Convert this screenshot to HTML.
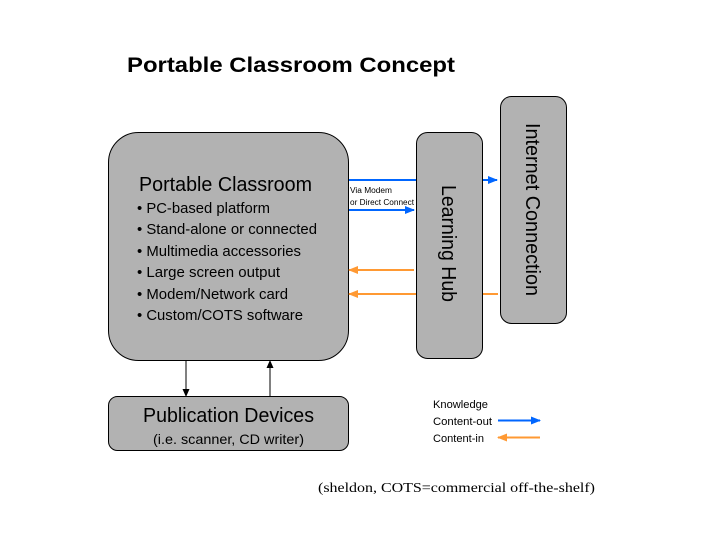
<!DOCTYPE html>
<html><head><meta charset="utf-8"><style>html,body{margin:0;padding:0;background:#fff}</style></head>
<body>
<svg width="720" height="540" viewBox="0 0 720 540" xmlns="http://www.w3.org/2000/svg" font-family="Liberation Sans, Arial, sans-serif">
<defs>
<marker id="ab" markerWidth="10" markerHeight="8" refX="9" refY="4" orient="auto" markerUnits="userSpaceOnUse"><path d="M0,0 L10,4 L0,8 Z" fill="#0066ff"/></marker>
<marker id="ao" markerWidth="10" markerHeight="8" refX="9" refY="4" orient="auto" markerUnits="userSpaceOnUse"><path d="M0,0 L10,4 L0,8 Z" fill="#ff9933"/></marker>
<marker id="ak" markerWidth="8" markerHeight="7" refX="7" refY="3.5" orient="auto" markerUnits="userSpaceOnUse"><path d="M0,0 L8,3.5 L0,7 Z" fill="#000"/></marker>
</defs>
<text x="127" y="72" font-size="21" font-weight="bold" textLength="328" lengthAdjust="spacingAndGlyphs">Portable Classroom Concept</text>

<rect x="108.5" y="132.5" width="240" height="228" rx="30" fill="#b2b2b2" stroke="#000"/>
<text x="139" y="191" font-size="20" textLength="173" lengthAdjust="spacingAndGlyphs">Portable Classroom</text>
<g font-size="15">
<text x="137" y="213" textLength="133" lengthAdjust="spacingAndGlyphs">• PC-based platform</text>
<text x="137" y="234" textLength="180" lengthAdjust="spacingAndGlyphs">• Stand-alone or connected</text>
<text x="137" y="256" textLength="164" lengthAdjust="spacingAndGlyphs">• Multimedia accessories</text>
<text x="137" y="277" textLength="143" lengthAdjust="spacingAndGlyphs">• Large screen output</text>
<text x="137" y="299" textLength="151" lengthAdjust="spacingAndGlyphs">• Modem/Network card</text>
<text x="137" y="320" textLength="166" lengthAdjust="spacingAndGlyphs">• Custom/COTS software</text>
</g>

<rect x="416.5" y="132.5" width="66" height="226" rx="11" fill="#b2b2b2" stroke="#000"/>
<text transform="translate(442,185) rotate(90)" font-size="20" textLength="117" lengthAdjust="spacingAndGlyphs">Learning Hub</text>
<rect x="500.5" y="96.5" width="66" height="227" rx="11" fill="#b2b2b2" stroke="#000"/>
<text transform="translate(526,123) rotate(90)" font-size="20" textLength="173" lengthAdjust="spacingAndGlyphs">Internet Connection</text>

<g stroke-width="2" fill="none">
<line x1="349" y1="180" x2="416" y2="180" stroke="#0066ff"/>
<line x1="483" y1="180" x2="497" y2="180" stroke="#0066ff" marker-end="url(#ab)"/>
<line x1="349" y1="210" x2="414" y2="210" stroke="#0066ff" marker-end="url(#ab)"/>
<line x1="414" y1="270" x2="349" y2="270" stroke="#ff9933" marker-end="url(#ao)"/>
<line x1="416" y1="294" x2="349" y2="294" stroke="#ff9933" marker-end="url(#ao)"/>
<line x1="498" y1="294" x2="483" y2="294" stroke="#ff9933"/>
</g>
<text x="350" y="193" font-size="8" textLength="42" lengthAdjust="spacingAndGlyphs">Via Modem</text>
<text x="350" y="205" font-size="8" textLength="64" lengthAdjust="spacingAndGlyphs">or Direct Connect</text>

<line x1="186" y1="361" x2="186" y2="396" stroke="#000" marker-end="url(#ak)"/>
<line x1="270" y1="396" x2="270" y2="361" stroke="#000" marker-end="url(#ak)"/>

<rect x="108.5" y="396.5" width="240" height="54" rx="9" fill="#b2b2b2" stroke="#000"/>
<text x="228.5" y="422" font-size="20" text-anchor="middle" textLength="171" lengthAdjust="spacingAndGlyphs">Publication Devices</text>
<text x="228.5" y="444" font-size="14" text-anchor="middle" textLength="151" lengthAdjust="spacingAndGlyphs">(i.e. scanner, CD writer)</text>

<g font-size="11">
<text x="433" y="408" textLength="55" lengthAdjust="spacingAndGlyphs">Knowledge</text>
<text x="433" y="425" textLength="59" lengthAdjust="spacingAndGlyphs">Content-out</text>
<text x="433" y="442" textLength="51" lengthAdjust="spacingAndGlyphs">Content-in</text>
</g>
<line x1="498" y1="420.5" x2="540" y2="420.5" stroke="#0066ff" stroke-width="2" marker-end="url(#ab)"/>
<line x1="540" y1="437.5" x2="498" y2="437.5" stroke="#ff9933" stroke-width="2" marker-end="url(#ao)"/>

<text x="318" y="492" font-family="Liberation Serif, serif" font-size="14" textLength="277" lengthAdjust="spacingAndGlyphs">(sheldon, COTS=commercial off-the-shelf)</text>
</svg>
</body></html>
